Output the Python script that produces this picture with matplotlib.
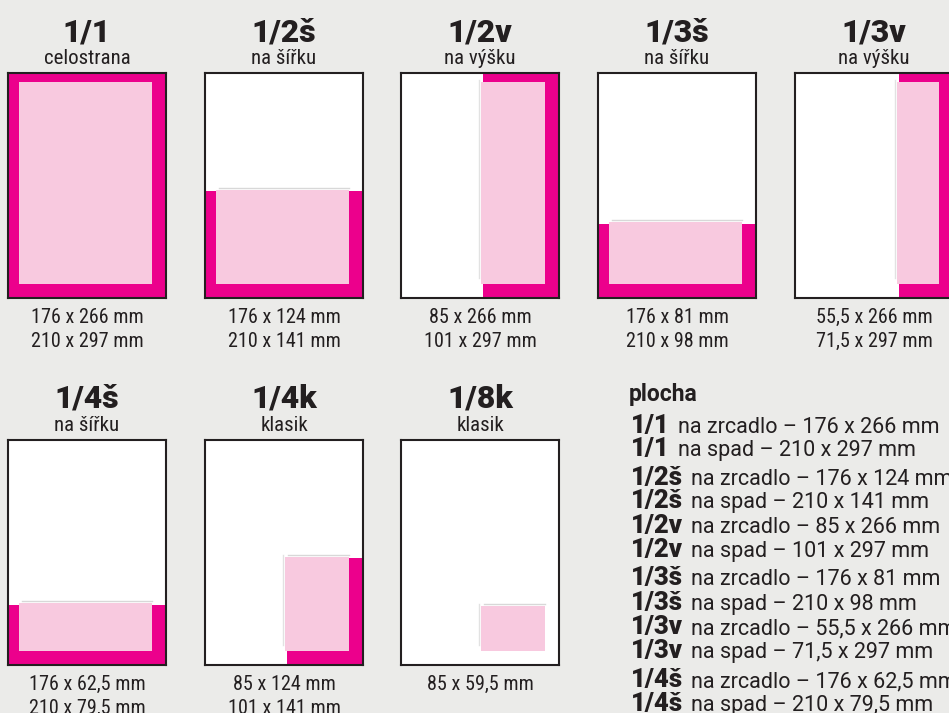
import matplotlib.pyplot as plt
from matplotlib.patches import Rectangle

# formaty inzerce (rozmery v mm)
labels = ["1/1", "1/2š", "1/2v", "1/3š", "1/3v", "1/4š", "1/4k", "1/8k"]
subtitles = ["celostrana", "na šířku", "na výšku", "na šířku", "na výšku",
             "na šířku", "klasik", "klasik"]
zrc_w = [176, 176, 85, 176, 55.5, 176, 85, 85]
zrc_h = [266, 124, 266, 81, 266, 62.5, 124, 59.5]
spad_w = [210, 210, 101, 210, 71.5, 210, 101, None]
spad_h = [297, 141, 297, 98, 297, 79.5, 141, None]

page_w, page_h = 210, 297
margin_right, margin_bottom = 19, 19

BG = "#ebebe9"
MAGENTA = "#ec008c"
PINK = "#f8c9df"
DARK = "#231f20"
COND = ["Roboto Condensed", "DejaVu Sans"]
HEAVY = ["Roboto", "DejaVu Sans"]

W, H = 949, 713
fig = plt.figure(figsize=(W / 100, H / 100), dpi=100, facecolor=BG)

def fx(px):
    return px / W

def fy(py):
    return 1 - py / H

def fmt(v):
    return str(v).replace(".", ",")

# rozlozeni stranek (px)
page_x = [8, 205, 401, 598, 795, 8, 205, 401]
page_y = [73, 73, 73, 73, 73, 440, 440, 440]
pw, ph = 158, 225

for i, lab in enumerate(labels):
    x0, y0 = page_x[i], page_y[i]
    ax = fig.add_axes([fx(x0), fy(y0 + ph), pw / W, ph / H])
    ax.set_xlim(0, page_w)
    ax.set_ylim(page_h, 0)
    ax.set_facecolor("white")
    ax.set_xticks([])
    ax.set_yticks([])
    for s in ax.spines.values():
        s.set_color(DARK)
        s.set_linewidth(1.5)
        s.set_zorder(5)

    if spad_w[i] is not None:
        ax.add_patch(Rectangle((page_w - spad_w[i], page_h - spad_h[i]),
                               spad_w[i], spad_h[i], color=MAGENTA, lw=0))
    zx = page_w - margin_right - zrc_w[i]
    zy = page_h - margin_bottom - zrc_h[i]
    ax.add_patch(Rectangle((zx, zy), zrc_w[i], zrc_h[i], color=PINK, lw=0))
    # jemna linka okraje zrcadla
    if zrc_h[i] < 200:
        ax.plot([zx + 4, zx + zrc_w[i]], [zy - 2.5, zy - 2.5], color="#d8d8d8", lw=1)
    if zrc_w[i] < 100:
        ax.plot([zx - 2, zx - 2], [zy - 2.5, zy + zrc_h[i] - 8], color="#e2e2e2", lw=1)

    cx = x0 + pw / 2
    fig.text(fx(cx), fy(y0 - 32), lab, ha="center", va="baseline",
             fontsize=23, fontweight=900, family=HEAVY, color=DARK)
    fig.text(fx(cx), fy(y0 - 9), subtitles[i], ha="center", va="baseline",
             fontsize=15, family=COND, color=DARK)
    fig.text(fx(cx), fy(y0 + ph + 25), f"{fmt(zrc_w[i])} x {fmt(zrc_h[i])} mm",
             ha="center", va="baseline", fontsize=14.5, family=COND, color=DARK)
    if spad_w[i] is not None:
        fig.text(fx(cx), fy(y0 + ph + 49), f"{fmt(spad_w[i])} x {fmt(spad_h[i])} mm",
                 ha="center", va="baseline", fontsize=14.5, family=COND, color=DARK)

# prehled plochy
fig.text(fx(629), fy(401), "plocha", ha="left", va="baseline", fontsize=16.5,
         fontweight="bold", family=HEAVY, color=DARK)
legend_y = [433, 456, 485, 508, 533, 557, 585, 610, 634, 658, 687, 711]
renderer = fig.canvas.get_renderer()
k = 0
for i in range(6):
    for kind, w, h in (("na zrcadlo", zrc_w[i], zrc_h[i]), ("na spad", spad_w[i], spad_h[i])):
        t = fig.text(fx(631), fy(legend_y[k]), labels[i], ha="left", va="baseline",
                     fontsize=18.5, fontweight=900, family=HEAVY, color=DARK)
        tw = t.get_window_extent(renderer).width
        fig.text(fx(631 + tw + 8), fy(legend_y[k]), f"{kind} – {fmt(w)} x {fmt(h)} mm",
                 ha="left", va="baseline", fontsize=15.5, family=HEAVY, color=DARK)
        k += 1

fig.savefig("out.png", dpi=100, facecolor=BG)
